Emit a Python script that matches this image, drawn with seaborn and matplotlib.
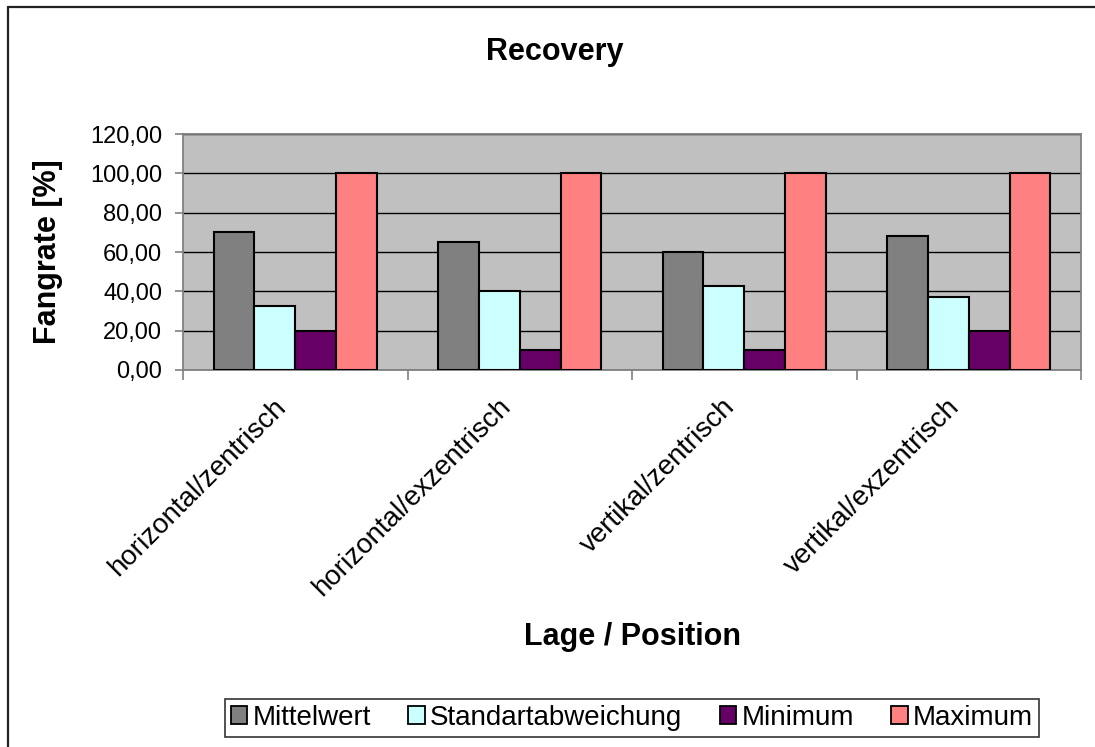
import matplotlib
matplotlib.use("Agg")
import matplotlib.pyplot as plt
import matplotlib.transforms as mtransforms
import seaborn as sns
import pandas as pd
from matplotlib.lines import Line2D
from matplotlib.ticker import FuncFormatter, MultipleLocator

# Data
categories = ["horizontal/zentrisch", "horizontal/exzentrisch",
              "vertikal/zentrisch", "vertikal/exzentrisch"]
series = ["Mittelwert", "Standartabweichung", "Minimum", "Maximum"]
mittelwert = [70.0, 65.0, 60.0, 68.3]
standardabweichung = [32.3, 40.4, 42.6, 37.0]
minimum = [20.0, 10.0, 10.0, 20.0]
maximum = [100.0, 100.0, 100.0, 100.0]

colors = ["#808080", "#CCFFFF", "#660066", "#FF8080"]

df = pd.DataFrame({
    "Lage": categories * 4,
    "Kennwert": [s for s in series for _ in categories],
    "Fangrate": mittelwert + standardabweichung + minimum + maximum,
})

sns.set_theme(style="white")
plt.rcParams["font.family"] = ["Liberation Sans", "DejaVu Sans"]
plt.rcParams["text.color"] = "black"
plt.rcParams["xtick.color"] = "black"
plt.rcParams["ytick.color"] = "black"

W, H = 1095, 747
fig = plt.figure(figsize=(W / 100, H / 100), dpi=100)
fig.patch.set_facecolor("white")

# Outer chart frame: left and top edges
fig.add_artist(Line2D([8 / W, 8 / W], [-0.05, 1 - 7 / H], transform=fig.transFigure,
                      color="#222222", linewidth=1.6))
fig.add_artist(Line2D([8 / W, 1.05], [1 - 7 / H, 1 - 7 / H], transform=fig.transFigure,
                      color="#222222", linewidth=1.6))

ax = fig.add_axes([183 / W, 1 - 370 / H, (1081 - 183) / W, (370 - 134) / H])
ax.set_facecolor("#C0C0C0")

sns.barplot(data=df, x="Lage", y="Fangrate", hue="Kennwert",
            hue_order=series, order=categories, palette=colors,
            saturation=1, width=0.727, gap=0, edgecolor="black", linewidth=1.5,
            errorbar=None, ax=ax, legend=True, zorder=3)

ax.set_xlim(-0.5, 3.5)
ax.set_ylim(0, 120)
ax.yaxis.set_major_locator(MultipleLocator(20))
ax.yaxis.set_major_formatter(FuncFormatter(lambda v, p: f"{v:.2f}".replace(".", ",")))
ax.grid(axis="y", color="black", linewidth=1.0, zorder=1)
ax.set_axisbelow(True)

for side in ["top", "right", "left", "bottom"]:
    ax.spines[side].set_visible(True)
    ax.spines[side].set_color("#808080")
    ax.spines[side].set_linewidth(1.3)

# Category boundaries as tick marks
ax.set_xticks([-0.5, 0.5, 1.5, 2.5, 3.5], minor=True)
ax.tick_params(axis="x", which="major", length=0, pad=17, labelsize=20,
               labelcolor="black")
ax.tick_params(axis="x", which="minor", length=7, width=1.2, color="#808080",
               direction="out", bottom=True)
ax.tick_params(axis="y", which="major", length=6, width=1.2, color="#808080",
               direction="out", left=True, pad=9, labelsize=17, labelcolor="black")
shift = mtransforms.ScaledTranslation(-22 / 100, 0, fig.dpi_scale_trans)
for lbl in ax.get_xticklabels():
    lbl.set_rotation(45)
    lbl.set_ha("right")
    lbl.set_va("top")
    lbl.set_rotation_mode("anchor")
    lbl.set_transform(lbl.get_transform() + shift)

ax.set_xlabel("")
ax.set_ylabel("")

fig.text(555 / W, 1 - 52 / H, "Recovery", ha="center", va="center",
         fontsize=22, fontweight="bold")
fig.text(632 / W, 1 - 637 / H, "Lage / Position", ha="center", va="center",
         fontsize=22, fontweight="bold")
fig.text(48 / W, 1 - 252 / H, "Fangrate [%]", ha="center", va="center",
         rotation=90, fontsize=22, fontweight="bold")

handles, labels = ax.get_legend_handles_labels()
ax.get_legend().remove()
leg = fig.legend(handles, labels, loc="center", ncol=4,
                 bbox_to_anchor=(632 / W, 1 - 718 / H),
                 fontsize=20, frameon=True, fancybox=False,
                 handlelength=0.6, handleheight=0.6, handletextpad=0.18,
                 columnspacing=1.35, borderpad=0.2, borderaxespad=0)
leg.get_frame().set_edgecolor("black")
leg.get_frame().set_linewidth(1.2)
for h in leg.legend_handles:
    h.set_edgecolor("black")
    h.set_linewidth(1.3)

fig.savefig("out.png", dpi=100)
